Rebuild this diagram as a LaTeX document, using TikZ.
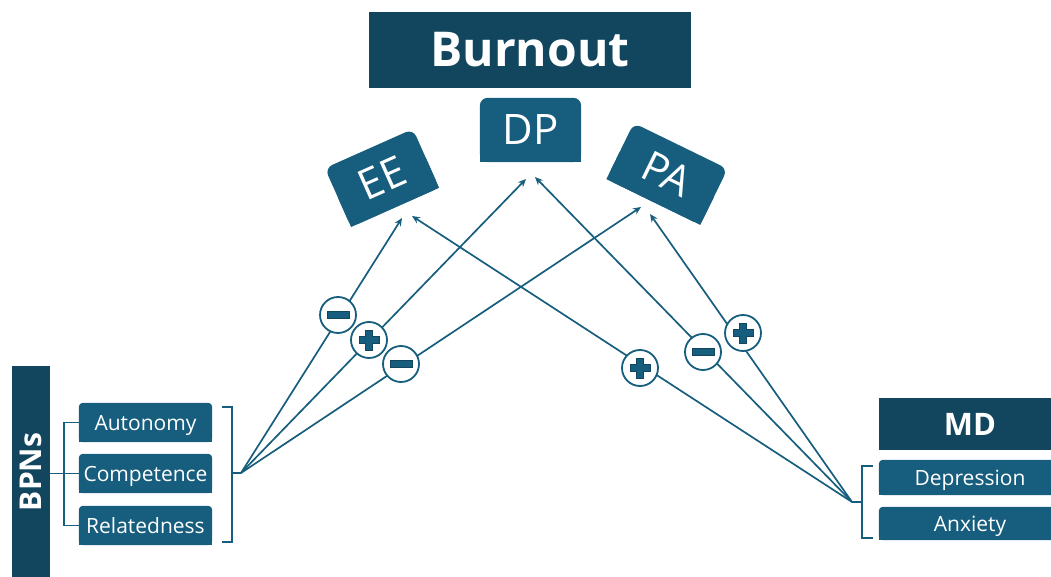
\documentclass[tikz,border=0pt]{standalone}
\usepackage{fontspec}
\setmainfont{Open Sans}
\usetikzlibrary{arrows.meta}
\pgfdeclarelayer{bg}
\pgfsetlayers{bg,main}
\definecolor{dark}{HTML}{12465F}
\definecolor{mid}{HTML}{175E7E}
\newcommand\tbfill[2]{%
  \fill[mid, rounded corners=#2] (#1.south west) -- (#1.north west) -- (#1.north east) -- (#1.south east) -- cycle;
  \fill[mid] (#1.south west) -- (#1.west) -- (#1.east) -- (#1.south east) -- cycle;}
\newcommand\plusat[1]{\filldraw[signfill, shift={(#1.center)}] (-3.5,-10) -- (3.5,-10) -- (3.5,-3.5) -- (10,-3.5) -- (10,3.5) -- (3.5,3.5) -- (3.5,10) -- (-3.5,10) -- (-3.5,3.5) -- (-10,3.5) -- (-10,-3.5) -- (-3.5,-3.5) -- cycle;}
\newcommand\minusat[1]{\filldraw[signfill, shift={(#1.center)}] (-11,-3.5) rectangle (11,3.5);}
\begin{document}
\begin{tikzpicture}[x=1pt,y=-1pt,
  box/.style={text=white, inner sep=0pt, font=\fontsize{21}{23}\selectfont, text height=15pt, text depth=0pt},
  bigtxt/.style={font=\fontsize{42}{44}\selectfont, text height=30pt},
  link/.style={draw=mid, line width=1.7pt},
  arr/.style={link, -{Stealth[length=8pt,width=7pt]}},
  sign/.style={circle, draw=mid, line width=1.8pt, fill=white, minimum size=36pt, inner sep=0pt},
  signfill/.style={fill=mid, draw=dark, line width=0.8pt}]
\useasboundingbox (0,0) rectangle (1051,577);
% top
\node[box, fill=dark, minimum width=322pt, minimum height=76pt, font=\bfseries\fontsize{48}{50}\selectfont, text height=34pt] (burnout) at (530,50) {Burnout};
\node[box, bigtxt, minimum width=101pt, minimum height=64pt] (dp) at (530.5,130) {DP};
\node[box, bigtxt, rotate=24, minimum width=96pt, minimum height=64pt] (ee) at (382,178) {EE};
\node[box, bigtxt, rotate=-26, minimum width=104pt, minimum height=62pt] (pa) at (667,174) {PA};
% left group
\node[box, fill=dark, rotate=90, minimum width=212pt, minimum height=38pt, font=\bfseries\fontsize{30}{32}\selectfont, text height=21.5pt] (bpns) at (31,472) {BPNs};
\node[box, minimum width=133pt, minimum height=39pt] (auto) at (145.5,422.5) {Autonomy};
\node[box, minimum width=133pt, minimum height=39pt] (comp) at (145.5,473.5) {Competence};
\node[box, minimum width=133pt, minimum height=39pt] (rel) at (145.5,525.5) {Relatedness};
% right group (boxes run past the right edge)
\node[box, fill=dark, minimum width=182pt, minimum height=52pt, font=\bfseries\fontsize{31}{33}\selectfont, text height=22pt] (md) at (970,424) {MD};
\node[box, minimum width=182pt, minimum height=35pt] (dep) at (970,477.5) {Depression};
\node[box, minimum width=182pt, minimum height=33pt] (anx) at (970,523.5) {Anxiety};
\begin{pgfonlayer}{bg}
\tbfill{dp}{8pt}
\tbfill{ee}{8pt}
\tbfill{pa}{8pt}
\tbfill{auto}{4pt}
\tbfill{comp}{4pt}
\tbfill{rel}{4pt}
\tbfill{dep}{4pt}
\tbfill{anx}{4pt}
\end{pgfonlayer}
% brackets
\draw[link] (comp.west) -- ++(-29,0);
\draw[link] (auto.west) -- ++(-15,0) |- (rel.west);
\coordinate (Lo) at (241,473);
\coordinate (Ro) at (852,502);
\draw[link] (222,407) -- (232,407) -- (232,542) -- (222,542);
\draw[link] (232,473) -- (Lo);
\draw[link] (873,466) -- (862,466) -- (862,538) -- (873,538);
\draw[link] (862,502) -- (Ro);
% targets
\coordinate (eeA) at (402,218);
\coordinate (eeB) at (412,216);
\coordinate (dpA) at (526,179);
\coordinate (dpB) at (535,177);
\coordinate (paA) at (641,207);
\coordinate (paB) at (650,214);
\draw[arr] (Lo) -- (eeA);
\draw[arr] (Lo) -- (dpA);
\draw[arr] (Lo) -- (paA);
\draw[arr] (Ro) -- (eeB);
\draw[arr] (Ro) -- (dpB);
\draw[arr] (Ro) -- (paB);
% signs
\node[sign] (s1) at (338,315) {};
\node[sign] (s2) at (369,340) {};
\node[sign] (s3) at (401,364) {};
\node[sign] (s4) at (640,368) {};
\node[sign] (s5) at (703,352) {};
\node[sign] (s6) at (743,333) {};
\minusat{s1}
\plusat{s2}
\minusat{s3}
\plusat{s4}
\minusat{s5}
\plusat{s6}
\end{tikzpicture}
\end{document}
